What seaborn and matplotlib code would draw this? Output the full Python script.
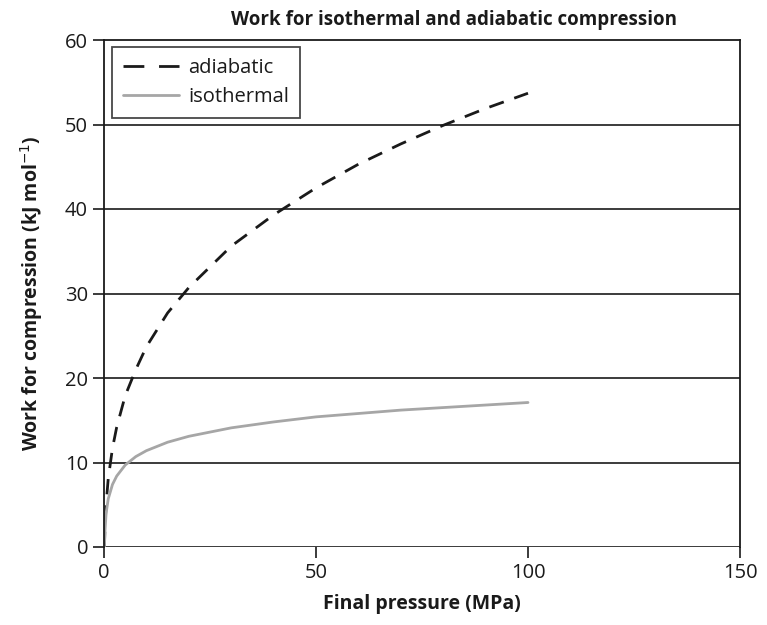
import numpy as np
import pandas as pd
import matplotlib
matplotlib.use("Agg")
import matplotlib.pyplot as plt
import seaborn as sns

pressure = [0.1, 0.2, 0.5, 1, 2, 3, 5, 7.5, 10, 15, 20, 30, 40, 50, 60, 70, 80, 90, 100]
adiabatic = [0.0, 1.9, 5.1, 8.1, 11.7, 14.2, 17.9, 21.0, 23.7, 27.7, 30.7, 35.6, 39.3, 42.5, 45.3, 47.7, 49.9, 51.9, 53.7]
isothermal = [0.0, 1.7, 4.0, 5.7, 7.4, 8.4, 9.7, 10.7, 11.4, 12.4, 13.1, 14.1, 14.8, 15.4, 15.8, 16.2, 16.5, 16.8, 17.1]

df = pd.DataFrame({
    "pressure": pressure * 2,
    "work": adiabatic + isothermal,
    "series": ["adiabatic"] * len(pressure) + ["isothermal"] * len(pressure),
})

sns.set_theme(style="white")
plt.rcParams['font.family'] = ['Open Sans', 'DejaVu Sans']

fig = plt.figure(figsize=(7.67, 6.25), dpi=100)
ax = fig.add_axes([0.1356, 0.1248, 0.8292, 0.8112])

sns.lineplot(data=df, x="pressure", y="work", hue="series", style="series",
             palette={"adiabatic": "#1a1a1a", "isothermal": "#a6a6a6"},
             dashes={"adiabatic": (5.5, 4), "isothermal": ""},
             linewidth=2, ax=ax, legend=True)

ax.set_xlim(0, 150)
ax.set_ylim(0, 60)
ax.set_xticks([0, 50, 100, 150])
ax.set_yticks([0, 10, 20, 30, 40, 50, 60])
for y in [0, 10, 20, 30, 40, 50]:
    ax.axhline(y, color="#1a1a1a", lw=1.2, zorder=0)

for s in ax.spines.values():
    s.set_color("#1a1a1a")
    s.set_linewidth(1.3)
ax.spines["bottom"].set_visible(False)

ax.tick_params(axis="both", which="major", direction="out", length=8, width=1.2,
               color="#1a1a1a", labelsize=14.5, labelcolor="#1a1a1a", bottom=True, left=True)

ax.set_xlabel("Final pressure (MPa)", fontsize=14, fontweight="bold", color="#1a1a1a", labelpad=8)
ax.set_ylabel("Work for compression (kJ mol$^{-1}$)", fontsize=14, fontweight="bold", color="#1a1a1a", labelpad=14)
ax.set_title("Work for isothermal and adiabatic compression", fontsize=13.5, fontweight="bold",
             color="#1a1a1a", pad=11, x=0.55)

leg = ax.legend(loc="upper left", fontsize=14.5, frameon=True, fancybox=False, edgecolor="#1a1a1a",
                handlelength=2.8, borderpad=0.55, labelspacing=0.42, handletextpad=0.45,
                borderaxespad=0, bbox_to_anchor=(0.0126, 0.986))
leg.get_frame().set_linewidth(1.3)
leg.get_lines()[0].set_dashes((7.5, 5.3))
for t in leg.get_texts():
    t.set_color("#1a1a1a")

fig.savefig("out.png", dpi=100)
